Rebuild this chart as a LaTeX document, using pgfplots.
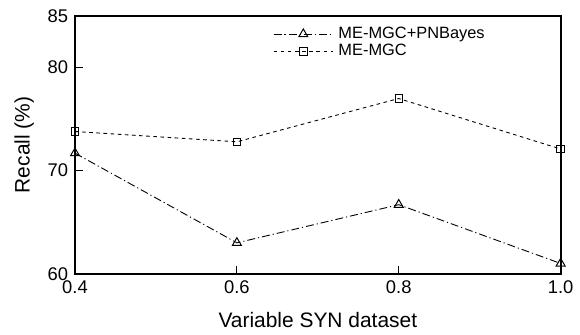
\documentclass[border={4bp 0bp 0bp 1.5bp}]{standalone}
\usepackage{fontspec}
\setmainfont{Liberation Sans}
\usepackage{pgfplots}
\pgfplotsset{compat=1.18}
\begin{document}
\begin{tikzpicture}
\begin{axis}[
  scale only axis,
  width=245bp, height=130bp,
  xmin=0.4, xmax=1.0, ymin=60, ymax=85,
  xtick={0.4,0.6,0.8,1.0},
  xticklabels={0.4,0.6,0.8,1.0},
  ytick={60,70,80,85},
  yticklabels={60,70,80,85},
  tick align=inside,
  tick pos=left,
  major tick length=4bp,
  axis line style={line width=1.1bp},
  every tick/.style={line width=0.6bp, black},
  tick label style={font=\fontsize{9.3}{11}\selectfont},
  xlabel={Variable SYN dataset},
  ylabel={Recall (\%)},
  label style={font=\fontsize{10.6}{12}\selectfont},
  xlabel style={yshift=-2.5bp},
  ylabel style={yshift=0bp},
  legend style={draw=none, fill=none, at={(0.395,0.99)}, anchor=north west,
    font=\fontsize{8.3}{9}\selectfont, row sep=-2.5bp, nodes={inner xsep=2.5bp}},
  legend cell align=left,
  legend image code/.code={\draw[mark repeat=2,mark phase=2] plot coordinates {(0bp,0bp) (15bp,0bp) (30bp,0bp)};},
]
\addplot[black, line width=0.45bp, dash pattern=on 4bp off 1.5bp on 0.6bp off 1.5bp, mark=triangle, mark size=2.6bp,
  mark options={solid, line width=0.5bp}]
  coordinates {(0.4,71.7) (0.6,63.0) (0.8,66.7) (1.0,61.0)};
\addlegendentry{ME-MGC+PNBayes}
\addplot[black, line width=0.45bp, dash pattern=on 1.8bp off 1.8bp, mark=square, mark size=1.9bp,
  mark options={solid, line width=0.5bp}]
  coordinates {(0.4,73.8) (0.6,72.8) (0.8,77.0) (1.0,72.1)};
\addlegendentry{ME-MGC}
\end{axis}
\end{tikzpicture}
\end{document}
